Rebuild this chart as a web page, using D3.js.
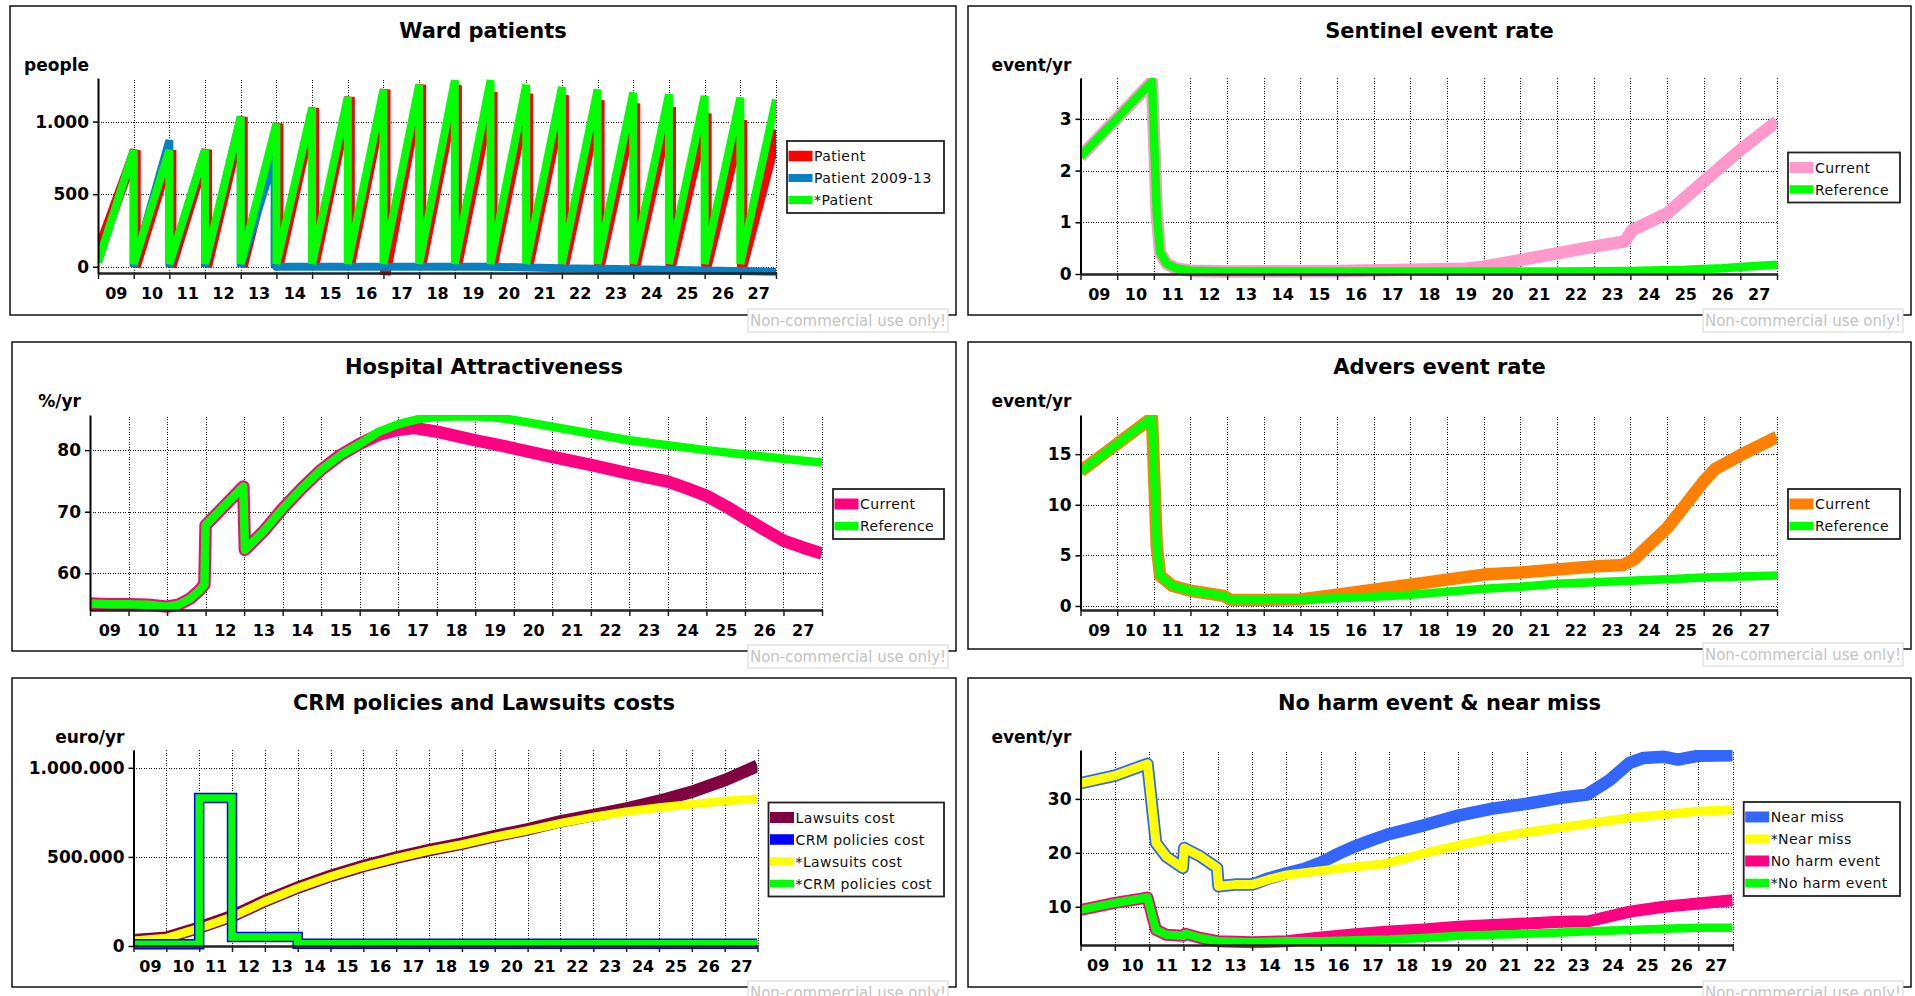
<!DOCTYPE html>
<html>
<head>
<meta charset="utf-8">
<title>Risk management dashboard</title>
<script src="https://d3js.org/d3.v7.min.js"></script>
<style>
  body { margin: 0; background: #fff; }
  text { font-family: "DejaVu Sans", Verdana, sans-serif; }
</style>
</head>
<body>
<svg id="chart" width="1915" height="996"></svg>
<script>
// tick labels of the time axis (one label per year, centred in the year)
var yearLabels = ["09","10","11","12","13","14","15","16","17","18","19","20","21","22","23","24","25","26","27"];

// ---- Ward patients (sawtooth: each year ramps up, then the ward is emptied) ----
// peak reached at the end of each yearly ramp, 2009 ... 2027
var patientPeaks      = [803, 803, 805, 1032, 986, 1094, 1169, 1220, 1254, 1250, 1204, 1192, 1181, 1146, 1124, 1101, 1055, 1009, 940];
// value each yearly ramp starts from
var patientStarts     = [100, 0, 0, 0, 0, 0, 0, 0, -55, 0, 0, 0, 0, 0, 0, 0, 0, 0, 0];
var refPatientPeaks   = [803, 803, 805, 1032, 986, 1094, 1169, 1220, 1254, 1284, 1284, 1254, 1238, 1220, 1199, 1188, 1176, 1165, 1151];
var refPatientStarts  = [30, 20, 20, 20, 20, 20, 20, 20, 20, 20, 20, 20, 20, 20, 20, 20, 20, 20, 20];
var patient0913 = [[2009, 30], [2010, 803], [2010, 0], [2011, 871], [2011, 0], [2012, 805], [2012, 0], [2013, 1032], [2013, 0],
  [2013.95, 757], [2013.95, 0], [2020, 0], [2022, -10], [2024, -18], [2026, -25], [2028, -34]];

// ---- Sentinel event rate ----
var sentinelCur = [[2009, 2.27], [2010.95, 3.72], [2011.08, 1.2], [2011.17, 0.42], [2011.35, 0.2], [2011.6, 0.11], [2012, 0.065],
  [2013, 0.05], [2016, 0.06], [2018, 0.08], [2019.5, 0.1], [2020, 0.14], [2021, 0.27], [2022, 0.4], [2023, 0.53], [2023.85, 0.63],
  [2024.05, 0.85], [2025, 1.17], [2026, 1.79], [2027, 2.4], [2028, 2.95]];
var sentinelRef = [[2009, 2.27], [2010.95, 3.72], [2011.08, 1.2], [2011.17, 0.42], [2011.35, 0.2], [2011.6, 0.11], [2012, 0.065],
  [2013, 0.05], [2016, 0.05], [2019, 0.05], [2022, 0.05], [2024, 0.06], [2025.5, 0.08], [2026.5, 0.11], [2027.3, 0.15], [2028, 0.18]];

// ---- Hospital attractiveness ----
var hospitalCur = [[2009, 55.1], [2009.5, 55.0], [2010, 55.0], [2010.5, 54.9], [2011, 54.6], [2011.3, 54.9], [2011.6, 55.9], [2011.85, 57.3],
  [2011.97, 58.2], [2012, 67.8], [2012.98, 74.1], [2013.02, 63.8], [2013.5, 66.8], [2014, 70.5], [2014.5, 73.8], [2015, 76.8],
  [2015.5, 79.2], [2016, 81.0], [2016.5, 82.5], [2017, 83.3], [2017.4, 83.6], [2018, 83.0], [2019, 81.6], [2020, 80.3], [2021, 78.9],
  [2022, 77.6], [2023, 76.2], [2024, 74.9], [2024.5, 73.8], [2025, 72.6], [2025.5, 70.9], [2026, 69.0], [2026.5, 67.1], [2027, 65.3],
  [2027.5, 64.2], [2028, 63.2]];
var hospitalRef = [[2009, 55.1], [2009.5, 55.0], [2010, 55.0], [2010.5, 54.9], [2011, 54.6], [2011.3, 54.9], [2011.6, 55.9], [2011.85, 57.3],
  [2011.97, 58.2], [2012, 67.8], [2012.98, 74.1], [2013.02, 63.8], [2013.5, 66.8], [2014, 70.5], [2014.5, 73.8], [2015, 76.8],
  [2015.5, 79.2], [2016, 81.0], [2016.5, 83.0], [2017, 84.2], [2017.5, 85.0], [2018, 85.4], [2019, 85.5], [2019.5, 85.3], [2020, 84.9],
  [2021, 83.8], [2022, 82.7], [2023, 81.6], [2024, 80.8], [2025, 80.0], [2026, 79.3], [2027, 78.6], [2028, 78.0]];

// ---- Advers event rate ----
var adversCur = [[2009, 13.3], [2010.95, 18.6], [2011.08, 6], [2011.17, 3.0], [2011.5, 2.0], [2012, 1.5], [2012.9, 1.0], [2013.1, 0.6],
  [2014, 0.6], [2015, 0.65], [2016, 1.1], [2017, 1.6], [2018, 2.1], [2019, 2.6], [2020, 3.1], [2021, 3.3], [2022, 3.6], [2023, 3.9],
  [2023.8, 4.05], [2024.1, 4.6], [2024.5, 6.0], [2025, 7.7], [2025.5, 10.0], [2026, 12.3], [2026.3, 13.5], [2027, 14.9], [2028, 16.7]];
var adversRef = [[2009, 13.3], [2010.95, 18.6], [2011.08, 6], [2011.17, 3.0], [2011.5, 2.0], [2012, 1.5], [2012.9, 1.0], [2013.1, 0.6],
  [2014, 0.6], [2015, 0.65], [2016, 0.75], [2017, 0.9], [2018, 1.1], [2019, 1.4], [2020, 1.7], [2021, 1.9], [2022, 2.2], [2023, 2.35],
  [2024, 2.5], [2025, 2.65], [2026, 2.8], [2027, 2.9], [2028, 3.0]];

// ---- CRM policies and lawsuits costs (euro/yr) ----
var lawsuitsCur = [[2009, 32000], [2010, 47000], [2011, 103000], [2012, 167000], [2013, 253000], [2014, 328000], [2015, 393000],
  [2016, 449000], [2017, 496000], [2018, 538000], [2019, 575000], [2020, 617000], [2021, 655000], [2022, 700000], [2023, 734000],
  [2024, 771000], [2025, 814000], [2026, 865000], [2027, 931000], [2028, 1011000]];
var lawsuitsRef = [[2009, 30000], [2010, 45000], [2011, 100000], [2012, 164000], [2013, 250000], [2014, 325000], [2015, 390000],
  [2016, 446000], [2017, 493000], [2018, 535000], [2019, 570000], [2020, 612000], [2021, 649000], [2022, 690000], [2023, 724000],
  [2024, 754000], [2025, 777000], [2026, 795000], [2027, 814000], [2028, 827000]];
var crmCur = [[2009, 10000], [2011, 10000], [2011, 830000], [2012, 830000], [2012, 51000], [2014, 51000], [2014, 12000], [2028, 12000]];
var crmRef = [[2009, 10000], [2011, 10000], [2011, 830000], [2012, 830000], [2012, 51000], [2014, 51000], [2014, 12000], [2028, 12000]];

// ---- No harm event & near miss ----
var nearMissCur = [[2009, 32.9], [2010, 34.3], [2010.95, 36.5], [2011.2, 21.8], [2011.5, 19.3], [2011.98, 17.2], [2012.02, 20.9],
  [2012.5, 19.3], [2012.98, 17.2], [2013.02, 13.8], [2013.5, 14.1], [2014, 14.1], [2014.5, 15.3], [2015, 16.2], [2015.5, 17.0],
  [2016, 18.2], [2016.5, 19.8], [2017, 21.2], [2017.5, 22.4], [2018, 23.5], [2019, 25.1], [2020, 26.9], [2021, 28.2], [2022, 29.1],
  [2023, 30.2], [2023.75, 30.8], [2024.4, 33.4], [2025, 36.7], [2025.4, 37.6], [2026, 37.8], [2026.4, 37.3], [2027, 38.0], [2028, 38.1]];
var nearMissRef = [[2009, 32.9], [2010, 34.3], [2010.95, 36.5], [2011.2, 21.8], [2011.5, 19.3], [2011.98, 17.2], [2012.02, 20.9],
  [2012.5, 19.3], [2012.98, 17.2], [2013.02, 13.8], [2013.5, 14.1], [2014, 14.1], [2014.5, 15.1], [2015, 15.9], [2016, 16.7],
  [2017, 17.4], [2017.8, 17.9], [2018.5, 19.0], [2019, 19.9], [2020, 21.4], [2021, 22.7], [2022, 23.8], [2023, 24.7], [2024, 25.6],
  [2025, 26.5], [2026, 27.1], [2027, 27.7], [2028, 28.0]];
var noHarmCur = [[2009, 9.4], [2010, 10.7], [2010.95, 11.7], [2011.2, 5.7], [2011.5, 4.8], [2012, 4.6], [2012.05, 5.0], [2012.5, 4.2],
  [2013, 3.6], [2014, 3.4], [2015, 3.6], [2016, 4.3], [2017, 4.9], [2018, 5.4], [2019, 5.8], [2020, 6.3], [2021, 6.6], [2022, 6.9],
  [2023, 7.2], [2023.8, 7.3], [2025, 9.1], [2026, 10.0], [2027, 10.6], [2028, 11.2]];
var noHarmRef = [[2009, 9.4], [2010, 10.7], [2010.95, 11.7], [2011.2, 5.7], [2011.5, 4.8], [2012, 4.6], [2012.05, 5.0], [2012.5, 4.2],
  [2013, 3.6], [2014, 3.4], [2015, 3.6], [2016, 3.6], [2017, 3.8], [2018, 3.9], [2019, 4.2], [2020, 4.6], [2021, 4.8], [2022, 5.0],
  [2023, 5.2], [2024, 5.5], [2025, 5.7], [2026, 5.9], [2027, 6.1], [2028, 6.1]];

// build the sawtooth vertices from yearly start / peak values
function sawtooth(starts, peaks, lag) {
  var pts = [];
  peaks.forEach(function(p, i) {
    pts.push([i === 0 ? 2009 : 2009 + i + lag, starts[i]]);
    pts.push([2010 + i + lag, p]);
  });
  return pts;
}

var euro = d3.formatLocale({decimal: ",", thousands: ".", grouping: [3], currency: ["€", ""]});
var fmtInt = euro.format(",d");

var yearEdges = d3.range(2009, 2029);
var yearMids = yearEdges.slice(0, -1).map(function(d) { return d + 0.5; });

var svg = d3.select("#chart");
svg.append("rect").attr("width", 1915).attr("height", 996).attr("fill", "#fff");

var panels = [
  { frame: [10, 6, 956, 315], title: "Ward patients", unit: "people",
    plot: [98, 78, 776, 273], yDomain: [-43, 1300], yTicks: [0, 500, 1000], join: "bevel",
    legendRight: 944,
    series: [
      { name: "Patient", color: "#ff0000", width: 10.5, data: sawtooth(patientStarts, patientPeaks, 0.05) },
      { name: "Patient 2009-13", color: "#0a80c4", width: 8, data: patient0913 },
      { name: "*Patient", color: "#00ff00", width: 8, data: sawtooth(refPatientStarts, refPatientPeaks, 0) }
    ] },
  { frame: [968, 6, 1911, 315], title: "Sentinel event rate", unit: "event/yr",
    plot: [1080.5, 78, 1777, 274], yDomain: [0, 3.79], yTicks: [0, 1, 2, 3],
    legendRight: 1900,
    series: [
      { name: "Current", color: "#ff99cc", width: 12.5, data: sentinelCur },
      { name: "Reference", color: "#00ff00", width: 8.5, data: sentinelRef }
    ] },
  { frame: [12, 342, 956, 651], title: "Hospital Attractiveness", unit: "%/yr",
    plot: [90, 415, 822, 610], yDomain: [54.05, 85.7], yTicks: [60, 70, 80],
    legendRight: 944,
    series: [
      { name: "Current", color: "#ff0080", width: 12.5, data: hospitalCur },
      { name: "Reference", color: "#00ff00", width: 8.5, data: hospitalRef }
    ] },
  { frame: [968, 342, 1911, 649], title: "Advers event rate", unit: "event/yr",
    plot: [1080.5, 415, 1777, 610], yDomain: [-0.4, 18.87], yTicks: [0, 5, 10, 15],
    legendRight: 1900,
    series: [
      { name: "Current", color: "#ff8000", width: 12.5, data: adversCur },
      { name: "Reference", color: "#00ff00", width: 8.5, data: adversRef }
    ] },
  { frame: [12, 678, 956, 987], title: "CRM policies and Lawsuits costs", unit: "euro/yr",
    plot: [133.5, 750, 757.5, 946], yDomain: [0, 1100000], yTicks: [0, 500000, 1000000], join: "miter",
    legendRight: 944,
    series: [
      { name: "Lawsuits cost", color: "#800040", width: 12.5, data: lawsuitsCur },
      { name: "CRM policies cost", color: "#0000ff", width: 10.5, data: crmCur },
      { name: "*Lawsuits cost", color: "#ffff00", width: 8.5, data: lawsuitsRef },
      { name: "*CRM policies cost", color: "#00ff00", width: 7.5, data: crmRef }
    ],
    order: [0, 2, 1, 3] },
  { frame: [968, 678, 1911, 987], title: "No harm event & near miss", unit: "event/yr",
    plot: [1080.5, 750, 1732.7, 945], yDomain: [2.9, 39.07], yTicks: [10, 20, 30],
    legendRight: 1900,
    series: [
      { name: "Near miss", color: "#3366ff", width: 12.5, data: nearMissCur },
      { name: "*Near miss", color: "#ffff00", width: 9, data: nearMissRef },
      { name: "No harm event", color: "#ff0080", width: 12, data: noHarmCur },
      { name: "*No harm event", color: "#00ff00", width: 8.5, data: noHarmRef }
    ] }
];

panels.forEach(drawPanel);

function drawPanel(p, idx) {
  var g = svg.append("g");
  var f = p.frame, pl = p.plot;
  var w = pl[2] - pl[0], h = pl[3] - pl[1];

  // frame
  g.append("rect")
    .attr("x", f[0]).attr("y", f[1])
    .attr("width", f[2] - f[0]).attr("height", f[3] - f[1])
    .attr("fill", "#fff").attr("stroke", "#111").attr("stroke-width", 1.5);

  // title
  g.append("text")
    .attr("x", (f[0] + f[2]) / 2).attr("y", f[1] + 31.5)
    .attr("text-anchor", "middle")
    .attr("font-size", 21).attr("font-weight", "bold")
    .text(p.title);

  var x = d3.scaleLinear().domain([2009, 2028]).range([pl[0], pl[2]]);
  var y = d3.scaleLinear().domain(p.yDomain).range([pl[3], pl[1]]);

  // dotted grid
  g.append("g")
    .attr("transform", "translate(0," + pl[3] + ")")
    .call(d3.axisBottom(x).tickValues(yearEdges).tickSize(-h).tickFormat(""))
    .call(function(s) { s.select(".domain").remove(); });
  g.append("g")
    .attr("transform", "translate(" + pl[0] + ",0)")
    .call(d3.axisLeft(y).tickValues(p.yTicks).tickSize(-w).tickFormat(""))
    .call(function(s) { s.select(".domain").remove(); });
  g.selectAll(".tick line")
    .attr("stroke", "#000").attr("stroke-width", 1)
    .attr("stroke-dasharray", "1,1.5").attr("shape-rendering", "crispEdges");

  // series
  var clipId = "clip" + idx;
  svg.append("clipPath").attr("id", clipId)
    .append("rect").attr("x", pl[0]).attr("y", pl[1]).attr("width", w).attr("height", h + 8);

  var line = d3.line()
    .x(function(d) { return x(d[0]); })
    .y(function(d) { return y(d[1]); });

  var order = p.order || p.series.map(function(s, i) { return i; });
  order.forEach(function(i) {
    var s = p.series[i];
    g.append("path")
      .datum(s.data)
      .attr("clip-path", "url(#" + clipId + ")")
      .attr("fill", "none")
      .attr("stroke", s.color)
      .attr("stroke-width", s.width)
      .attr("stroke-linejoin", p.join || "round")
      .attr("stroke-miterlimit", 2)
      .attr("d", line);
  });

  // x axis: tick marks on year edges, labels in the middle of each year
  var gx = g.append("g")
    .attr("transform", "translate(0," + pl[3] + ")")
    .call(d3.axisBottom(x).tickValues(yearEdges).tickSize(6).tickSizeOuter(0).tickFormat(""));
  gx.select(".domain").attr("stroke", "#222").attr("stroke-width", 2.5);
  gx.selectAll(".tick line").attr("stroke", "#222").attr("stroke-width", 1.5);

  var gxl = g.append("g")
    .attr("transform", "translate(0," + pl[3] + ")")
    .call(d3.axisBottom(x).tickValues(yearMids).tickSize(0).tickPadding(15)
      .tickFormat(function(d, i) { return yearLabels[i]; }));
  gxl.select(".domain").remove();
  gxl.selectAll("text")
    .attr("font-family", "DejaVu Sans, sans-serif")
    .attr("font-size", 16).attr("font-weight", "bold").attr("fill", "#000");

  // y axis
  var gy = g.append("g")
    .attr("transform", "translate(" + pl[0] + ",0)")
    .call(d3.axisLeft(y).tickValues(p.yTicks).tickSize(5).tickSizeOuter(0).tickPadding(4).tickFormat(fmtInt));
  gy.select(".domain").attr("stroke", "#000").attr("stroke-width", 2);
  gy.selectAll(".tick line").attr("stroke", "#000").attr("stroke-width", 1.5);
  gy.selectAll("text")
    .attr("font-family", "DejaVu Sans, sans-serif")
    .attr("font-size", 17).attr("font-weight", "bold").attr("fill", "#000");

  // unit label
  g.append("text")
    .attr("x", pl[0] - 9).attr("y", f[1] + 65)
    .attr("text-anchor", "end")
    .attr("font-size", 17).attr("font-weight", "bold")
    .text(p.unit);

  // legend
  var n = p.series.length;
  var lx = pl[2] + 11, lw = p.legendRight - lx, lh = 22 * n + 6;
  var ly = (pl[1] + pl[3]) / 2 - lh / 2 + 1.5;
  var lg = g.append("g");
  lg.append("rect")
    .attr("x", lx).attr("y", ly).attr("width", lw).attr("height", lh)
    .attr("fill", "#fff").attr("stroke", "#222").attr("stroke-width", 1.8);
  p.series.forEach(function(s, i) {
    var cy = ly + 15 + 22 * i;
    var sh = Math.min(s.width, 11);
    lg.append("rect")
      .attr("x", lx + 1.5).attr("y", cy - sh / 2)
      .attr("width", 24).attr("height", sh)
      .attr("fill", s.color);
    lg.append("text")
      .attr("x", lx + 27).attr("y", cy + 5)
      .attr("font-size", 14).attr("letter-spacing", "0.4px")
      .attr("fill", "#111")
      .text(s.name);
  });

  // watermark box
  var nb = g.append("g");
  nb.append("rect")
    .attr("x", f[2] - 208).attr("y", f[3] - 6)
    .attr("width", 200).attr("height", 23)
    .attr("fill", "#fff").attr("stroke", "#d4d4d4").attr("stroke-width", 1);
  nb.append("text")
    .attr("x", f[2] - 206).attr("y", f[3] + 11)
    .attr("font-size", 15).attr("fill", "#c4c4c4")
    .attr("textLength", 196).attr("lengthAdjust", "spacingAndGlyphs")
    .text("Non-commercial use only!");
}
</script>
</body>
</html>
